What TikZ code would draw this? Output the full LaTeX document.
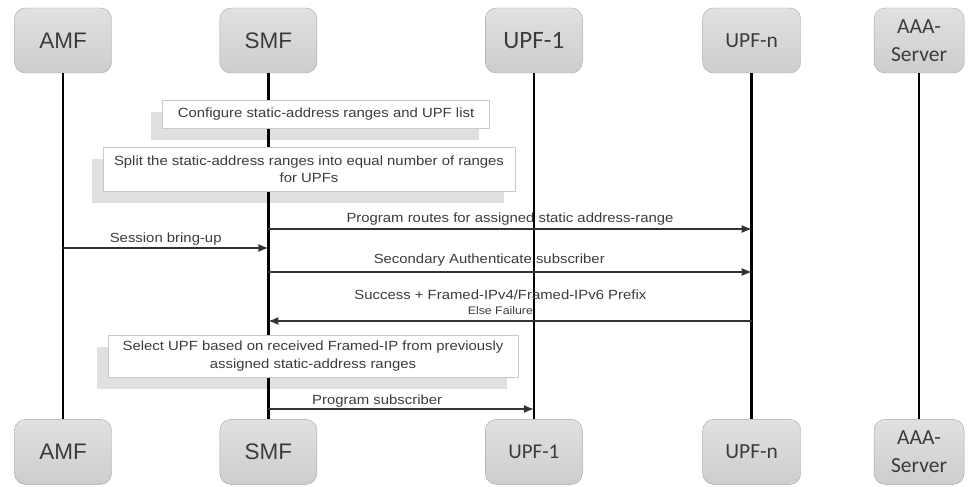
\documentclass[tikz,border=0pt]{standalone}
\usepackage{fontspec}
\setmainfont{Liberation Sans}
\newfontfamily\calibri{Carlito}
\newfontfamily\msgfont[FakeStretch=1.12]{Liberation Sans}
\usetikzlibrary{arrows.meta,positioning}
\definecolor{boxtop}{RGB}{225,225,225}
\definecolor{boxbot}{RGB}{205,205,205}
\definecolor{boxline}{RGB}{165,165,165}
\definecolor{msgtext}{RGB}{60,60,60}
\definecolor{noteshade}{RGB}{224,224,224}
\pgfdeclarelayer{shadows}
\pgfsetlayers{shadows,main}
\tikzset{%
  >={Latex[width=8pt,length=10pt]},
  % Specifications for style of nodes:
      actor/.style = {rectangle, rounded corners=11pt, draw=boxline,
                      top color=boxtop, bottom color=boxbot,
                      minimum height=65pt, text centered, text=msgtext},
       note/.style = {rectangle, draw=boxline!60, fill=white, align=center,
                      text=msgtext, font=\msgfont\fontsize{13.3}{17.5}\selectfont},
   lifeline/.style = {line width=2.6pt, black},
        msg/.style = {->, line width=1.2pt, black!80},
   msglabel/.style = {text=msgtext, font=\msgfont\fontsize{13.3}{15}\selectfont},
}

\begin{document}
\begin{tikzpicture}[x=1pt, y=-1pt]
\useasboundingbox (0,0) rectangle (969,487);

\node (AMF)  [actor, minimum width=97pt, font=\fontsize{22.5}{24}\selectfont] at (63,40.5) {AMF};
\node (SMF)  [actor, minimum width=97pt, font=\fontsize{22.5}{24}\selectfont, right=108pt of AMF] {SMF};
\node (UPF1) [actor, minimum width=97pt, font=\calibri\fontsize{25}{27}\selectfont, right=168pt of SMF] {UPF-1};
\node (UPFn) [actor, minimum width=98pt, font=\calibri\fontsize{21.5}{23}\selectfont, right=120pt of UPF1] {UPF-n};
\node (AAA)  [actor, minimum width=90pt, align=center, font=\calibri\fontsize{21.5}{28}\selectfont, right=73pt of UPFn] {AAA-\\Server};

\node (AMFb)  [actor, minimum width=97pt, font=\fontsize{22.5}{24}\selectfont, below=346pt of AMF] {AMF};
\node (SMFb)  [actor, minimum width=97pt, font=\fontsize{22.5}{24}\selectfont, below=346pt of SMF] {SMF};
\node (UPF1b) [actor, minimum width=97pt, font=\calibri\fontsize{21}{23}\selectfont, below=346pt of UPF1] {UPF-1};
\node (UPFnb) [actor, minimum width=98pt, font=\calibri\fontsize{21.5}{23}\selectfont, below=346pt of UPFn] {UPF-n};
\node (AAAb)  [actor, minimum width=90pt, align=center, font=\calibri\fontsize{21.5}{28}\selectfont, below=346pt of AAA] {AAA-\\Server};

% lifelines
\draw[lifeline] (AMF) -- (AMFb);
\draw[lifeline] (SMF) -- (SMFb);
\draw[lifeline] (UPF1) -- (UPF1b);
\draw[lifeline] (UPFn) -- (UPFnb);
\draw[lifeline] (AAA) -- (AAAb);

% notes on SMF
\node (cfg)   [note, minimum width=327pt, minimum height=28pt] at (326,114)
      {Configure static-address ranges and UPF list};
\node (split) [note, minimum width=412pt, minimum height=44pt] at (309,169)
      {Split the static-address ranges into equal number of ranges\\for UPFs};
\node (sel)   [note, minimum width=410pt, minimum height=42pt] at (313,356)
      {Select UPF based on received Framed-IP from previously\\assigned static-address ranges};

\begin{pgfonlayer}{shadows}
  \foreach \n in {cfg,split,sel}
    \fill[noteshade] ([shift={(-11,12)}]\n.south west) rectangle ([shift={(-11,12)}]\n.north east);
\end{pgfonlayer}

% messages
\coordinate (m1) at (0,229);
\coordinate (m2) at (0,248);
\coordinate (m3) at (0,272);
\coordinate (m4) at (0,321);
\coordinate (m5) at (0,409);

\draw[msg] (SMF |- m1) -- (UPFn |- m1)
      node[msglabel, midway, above=0pt] {Program routes for assigned static address-range};
\draw[msg] (AMF |- m2) -- (SMF |- m2)
      node[msglabel, midway, above=-1pt] {Session bring-up};
\draw[msg] (SMF |- m3) -- (UPFn |- m3)
      node[msglabel, pos=0.457, above=2pt] {Secondary Authenticate subscriber};
\draw[msg] (UPFn |- m4) -- (SMF |- m4)
      node[msglabel, pos=0.52, above=2pt, align=center]
      {Success + Framed-IPv4/Framed-IPv6 Prefix\\{\fontsize{11}{15}\selectfont Else Failure}};
\draw[msg] (SMF |- m5) -- (UPF1 |- m5)
      node[msglabel, pos=0.41, above=-2pt] {Program subscriber};
\end{tikzpicture}
\end{document}
